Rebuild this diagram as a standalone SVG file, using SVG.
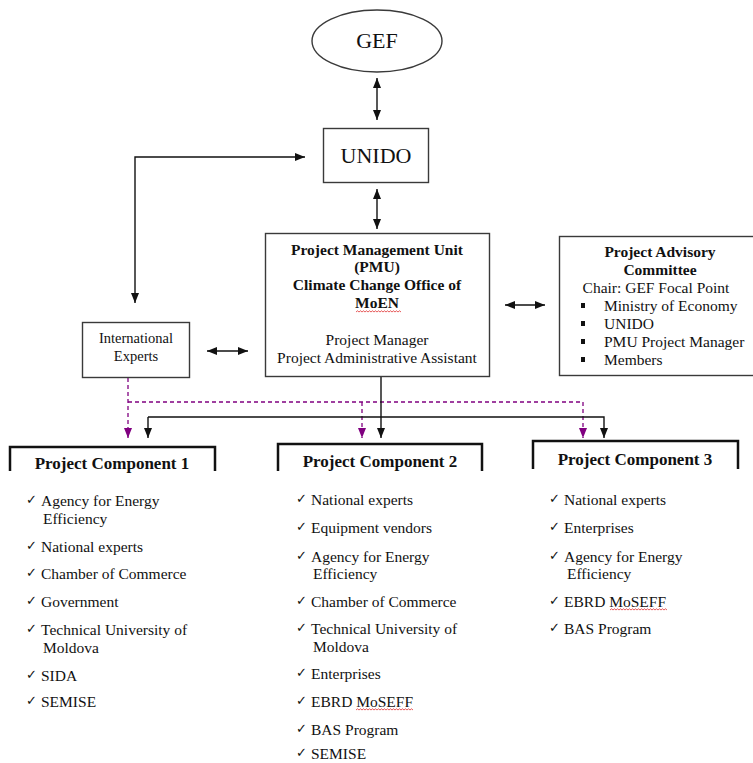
<svg xmlns="http://www.w3.org/2000/svg" width="753" height="763" viewBox="0 0 753 763">
<style>
.t{font-family:"Liberation Serif","Times New Roman",serif;fill:#111;}
.b{font-weight:bold;}
.box{fill:#fff;stroke:#3a3a3a;stroke-width:1.4;}
.comp{fill:none;stroke:#111;stroke-width:2.5;}
.ln{fill:none;stroke:#111;stroke-width:1.4;}
.dl{fill:none;stroke:#800080;stroke-width:1.3;stroke-dasharray:4,3;}
.ck{font-family:"DejaVu Sans",sans-serif;font-size:13px;font-weight:bold;fill:#111;}
.sq{fill:none;stroke:#e03030;stroke-width:0.8;}
</style>
<defs>
<marker id="ah" viewBox="0 0 10 8" refX="10" refY="4" markerWidth="10" markerHeight="8" markerUnits="userSpaceOnUse" orient="auto-start-reverse"><path d="M0,0 L10,4 L0,8 z" fill="#111"/></marker>
<marker id="ap" viewBox="0 0 10 8" refX="10" refY="4" markerWidth="10" markerHeight="8" markerUnits="userSpaceOnUse" orient="auto"><path d="M0,0 L10,4 L0,8 z" fill="#800080"/></marker>
</defs>
<rect width="753" height="763" fill="#fff"/>

<g id="connectors">
<path class="ln" d="M377,78 V120" marker-start="url(#ah)" marker-end="url(#ah)"/>
<path class="ln" d="M377,189 V229" marker-start="url(#ah)" marker-end="url(#ah)"/>
<path class="ln" d="M305,157 H135 V303" marker-start="url(#ah)" marker-end="url(#ah)"/>
<path class="ln" d="M207,351 H248" marker-start="url(#ah)" marker-end="url(#ah)"/>
<path class="ln" d="M505,305 H545" marker-start="url(#ah)" marker-end="url(#ah)"/>
<path class="dl" d="M128,378 V438" marker-end="url(#ap)"/>
<path class="dl" d="M128,402 H583 V438" marker-end="url(#ap)"/>
<path class="dl" d="M362,402 V438" marker-end="url(#ap)"/>
<path class="ln" d="M381,377 V438" marker-end="url(#ah)"/>
<path class="ln" d="M148,417 V438" marker-end="url(#ah)"/>
<path class="ln" d="M148,417 H604 V438" marker-end="url(#ah)"/>
</g>

<g id="gef">
<ellipse cx="377" cy="41" rx="65" ry="31" class="box"/>
<text class="t" x="377" y="48" font-size="22" text-anchor="middle">GEF</text>
</g>

<g id="unido">
<rect class="box" x="323.5" y="128.5" width="105" height="54"/>
<text class="t" x="376" y="163" font-size="22" text-anchor="middle">UNIDO</text>
</g>

<g id="international-experts">
<rect class="box" x="82.5" y="322.5" width="107" height="55"/>
<text class="t" x="136" y="343" font-size="14.5" text-anchor="middle">International</text>
<text class="t" x="136" y="361" font-size="14.5" text-anchor="middle">Experts</text>
</g>

<g id="pmu">
<rect class="box" x="265.5" y="233.5" width="224" height="143"/>
<g class="t b" font-size="15.5" text-anchor="middle">
<text x="377" y="255">Project Management Unit</text>
<text x="377" y="272">(PMU)</text>
<text x="377" y="290">Climate Change Office of</text>
<text x="377" y="308">MoEN</text>
</g>
<path class="sq" d="M356,312 l1.5,-1.2 l1.5,1.2 l1.5,-1.2 l1.5,1.2 l1.5,-1.2 l1.5,1.2 l1.5,-1.2 l1.5,1.2 l1.5,-1.2 l1.5,1.2 l1.5,-1.2 l1.5,1.2 l1.5,-1.2 l1.5,1.2 l1.5,-1.2 l1.5,1.2 l1.5,-1.2 l1.5,1.2 l1.5,-1.2 l1.5,1.2 l1.5,-1.2 l1.5,1.2 l1.5,-1.2 l1.5,1.2 l1.5,-1.2 l1.5,1.2 l1.5,-1.2 l1.5,1.2 l1.5,-1.2 l1.5,1.2"/>
<g class="t" font-size="15.5" text-anchor="middle">
<text x="377" y="345">Project Manager</text>
<text x="377" y="363">Project Administrative Assistant</text>
</g>
</g>

<g id="advisory-committee">
<rect class="box" x="559.5" y="236.5" width="195" height="139"/>
<g class="t" font-size="15.5">
<text class="b" x="660" y="257" text-anchor="middle">Project Advisory</text>
<text class="b" x="660" y="275" text-anchor="middle">Committee</text>
<text x="656" y="293" text-anchor="middle">Chair: GEF Focal Point</text>
<text x="604" y="311">Ministry of Economy</text>
<text x="604" y="329">UNIDO</text>
<text x="604" y="347">PMU Project Manager</text>
<text x="604" y="365">Members</text>
</g>
<rect x="581" y="303" width="4" height="5" fill="#111"/>
<rect x="581" y="321" width="4" height="5" fill="#111"/>
<rect x="581" y="339" width="4" height="5" fill="#111"/>
<rect x="581" y="357" width="4" height="5" fill="#111"/>
</g>

<g id="component-1">
<path class="comp" d="M10,471 V447 H215 V471"/>
<text class="t b" x="112" y="469" font-size="17" text-anchor="middle">Project Component 1</text>
<g class="t" font-size="15.5">
<text x="41" y="506">Agency  for Energy</text>
<text x="43" y="524">Efficiency</text>
<text x="41" y="552">National experts</text>
<text x="41" y="579">Chamber of Commerce</text>
<text x="41" y="607">Government</text>
<text x="41" y="635">Technical University  of</text>
<text x="43" y="653">Moldova</text>
<text x="41" y="681">SIDA</text>
<text x="41" y="707">SEMISE</text>
</g>
<g class="ck">
<text x="26" y="504">✓</text>
<text x="26" y="550">✓</text>
<text x="26" y="577">✓</text>
<text x="26" y="605">✓</text>
<text x="26" y="633">✓</text>
<text x="26" y="679">✓</text>
<text x="26" y="705">✓</text>
</g>
</g>

<g id="component-2">
<path class="comp" d="M278,471 V444 H482 V471"/>
<text class="t b" x="380" y="467" font-size="17" text-anchor="middle">Project Component 2</text>
<g class="t" font-size="15.5">
<text x="311" y="505">National experts</text>
<text x="311" y="533">Equipment vendors</text>
<text x="311" y="562">Agency  for Energy</text>
<text x="313" y="579">Efficiency</text>
<text x="311" y="607">Chamber of Commerce</text>
<text x="311" y="634">Technical University  of</text>
<text x="313" y="652">Moldova</text>
<text x="311" y="679">Enterprises</text>
<text x="311" y="707">EBRD MoSEFF</text>
<text x="311" y="735">BAS Program</text>
<text x="311" y="759">SEMISE</text>
</g>
<path class="sq" d="M356,710 l1.5,-1.2 l1.5,1.2 l1.5,-1.2 l1.5,1.2 l1.5,-1.2 l1.5,1.2 l1.5,-1.2 l1.5,1.2 l1.5,-1.2 l1.5,1.2 l1.5,-1.2 l1.5,1.2 l1.5,-1.2 l1.5,1.2 l1.5,-1.2 l1.5,1.2 l1.5,-1.2 l1.5,1.2 l1.5,-1.2 l1.5,1.2 l1.5,-1.2 l1.5,1.2 l1.5,-1.2 l1.5,1.2 l1.5,-1.2 l1.5,1.2 l1.5,-1.2 l1.5,1.2 l1.5,-1.2 l1.5,1.2 l1.5,-1.2 l1.5,1.2 l1.5,-1.2 l1.5,1.2 l1.5,-1.2 l1.5,1.2 l1.5,-1.2 l1.5,1.2"/>
<g class="ck">
<text x="296" y="503">✓</text>
<text x="296" y="531">✓</text>
<text x="296" y="560">✓</text>
<text x="296" y="605">✓</text>
<text x="296" y="632">✓</text>
<text x="296" y="677">✓</text>
<text x="296" y="705">✓</text>
<text x="296" y="733">✓</text>
<text x="296" y="757">✓</text>
</g>
</g>

<g id="component-3">
<path class="comp" d="M533,469 V441 H738 V469"/>
<text class="t b" x="635" y="465" font-size="17" text-anchor="middle">Project Component 3</text>
<g class="t" font-size="15.5">
<text x="564" y="505">National experts</text>
<text x="564" y="533">Enterprises</text>
<text x="564" y="562">Agency  for Energy</text>
<text x="567" y="579">Efficiency</text>
<text x="564" y="607">EBRD MoSEFF</text>
<text x="564" y="634">BAS Program</text>
</g>
<path class="sq" d="M610,610 l1.5,-1.2 l1.5,1.2 l1.5,-1.2 l1.5,1.2 l1.5,-1.2 l1.5,1.2 l1.5,-1.2 l1.5,1.2 l1.5,-1.2 l1.5,1.2 l1.5,-1.2 l1.5,1.2 l1.5,-1.2 l1.5,1.2 l1.5,-1.2 l1.5,1.2 l1.5,-1.2 l1.5,1.2 l1.5,-1.2 l1.5,1.2 l1.5,-1.2 l1.5,1.2 l1.5,-1.2 l1.5,1.2 l1.5,-1.2 l1.5,1.2 l1.5,-1.2 l1.5,1.2 l1.5,-1.2 l1.5,1.2 l1.5,-1.2 l1.5,1.2 l1.5,-1.2 l1.5,1.2 l1.5,-1.2 l1.5,1.2 l1.5,-1.2 l1.5,1.2"/>
<g class="ck">
<text x="549" y="503">✓</text>
<text x="549" y="531">✓</text>
<text x="549" y="560">✓</text>
<text x="549" y="605">✓</text>
<text x="549" y="632">✓</text>
</g>
</g>
</svg>
